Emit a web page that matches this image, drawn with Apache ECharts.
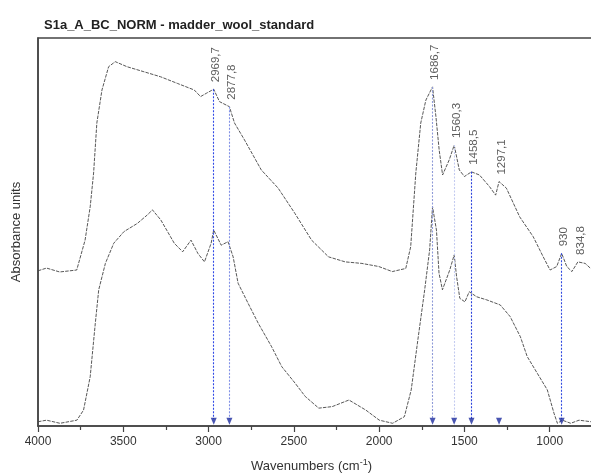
<!DOCTYPE html>
<html>
<head>
<meta charset="utf-8">
<script src="https://cdn.jsdelivr.net/npm/echarts@6/dist/echarts.min.js"></script>
<style>
    html, body {margin: 0; padding: 0; background: #fff;}
    #chart {width: 591px; height: 475px;}
</style>
</head>
<body>
<div id="chart"></div>
<script>
// upper spectrum (S1a sample)
var upperWn = [4000, 3950, 3873, 3773, 3724, 3694, 3674, 3655, 3625, 3586, 3547, 3478, 3379, 3281, 3183, 3084, 3047, 3011, 2970, 2936,
    2878, 2848, 2789, 2691, 2592, 2494, 2396, 2297, 2199, 2101, 2002, 1923, 1844, 1815, 1785, 1756, 1726, 1687, 1667, 1648,
    1628, 1589, 1560, 1530, 1500, 1459, 1412, 1353, 1317, 1297, 1254, 1176, 1097, 1038, 998, 959, 930, 900, 870, 835, 792, 750];
var upperAbs = [40.0, 40.7, 39.7, 40.2, 47.9, 56.5, 65.2, 78.1, 86.6, 92.6, 93.9, 92.6, 91.3, 90.0, 88.3, 86.6, 84.9, 85.8, 86.8, 83.6,
    82.3, 78.1, 73.7, 66.0, 61.3, 54.8, 47.9, 43.6, 42.3, 41.9, 41.1, 39.8, 40.6, 46.2, 65.2, 78.1, 84.0, 87.4, 79.7, 71.1,
    64.7, 68.6, 72.4, 66.0, 64.3, 65.5, 64.7, 61.7, 59.5, 63.0, 61.3, 53.9, 48.8, 43.6, 40.2, 41.1, 44.5, 41.1, 39.8, 42.3, 41.9, 40.2];

// lower spectrum (madder wool standard)
var lowerWn = [4000, 3950, 3871, 3772, 3733, 3694, 3664, 3644, 3605, 3556, 3496, 3418, 3359, 3329, 3280, 3201, 3152, 3103, 3063, 3024,
    2985, 2970, 2926, 2886, 2856, 2827, 2768, 2709, 2630, 2571, 2492, 2433, 2354, 2275, 2177, 2078, 1999, 1921, 1852, 1812,
    1773, 1733, 1704, 1687, 1664, 1649, 1629, 1586, 1560, 1546, 1527, 1497, 1472, 1428, 1369, 1290, 1232, 1172, 1132, 1073,
    1014, 975, 955, 926, 877, 828, 758];
var lowerAbs = [1.1, 1.5, 0.7, 1.5, 4.1, 12.7, 26.5, 35.1, 41.9, 47.1, 50.1, 52.2, 54.4, 55.7, 53.1, 47.1, 44.9, 47.9, 44.5, 42.3,
    47.1, 50.5, 46.6, 47.5, 43.6, 36.8, 31.6, 26.5, 20.4, 15.3, 11.0, 7.6, 4.6, 5.0, 6.7, 4.1, 1.5, 0.7, 2.4, 9.3,
    22.2, 35.1, 45.4, 56.5, 50.5, 39.4, 35.1, 40.2, 44.1, 38.5, 32.9, 32.0, 34.6, 33.3, 32.5, 31.2, 28.2, 23.0, 17.9, 13.6,
    9.3, 3.3, 0.7, 1.5, 0.7, 1.5, 1.1];

// picked peaks
var peakWn = [2969.7, 2877.8, 1686.7, 1560.3, 1458.5, 1297.1, 930, 834.8];
var peakLabels = ['2969,7', '2877,8', '1686,7', '1560,3', '1458,5', '1297,1', '930', '834,8'];
var peakTop = [86.8, 82.3, 87.4, 72.4, 65.5, 63.0, 44.5, 42.3];
var arrowWn = [2969.7, 2877.8, 1686.7, 1560.3, 1458.5, 1297.1, 930];

var FONT = 'Liberation Sans, Arial, sans-serif';

function pairs(xs, ys) {
    var out = [];
    for (var i = 0; i < xs.length && i < ys.length; i++) {
        out.push([xs[i], ys[i]]);
    }
    return out;
}

// dotted guide line colour per peak (none for 1297,1 and 834,8)
var guideColor = {
    '2969,7': '#2f48e6',
    '2877,8': '#8090e6',
    '1686,7': '#8e9ad8',
    '1560,3': '#c4cbf0',
    '1458,5': '#2a40dc',
    '930': '#2f48e0'
};

var guides = [];
for (var i = 0; i < peakWn.length; i++) {
    var c = guideColor[peakLabels[i]];
    if (!c) continue;
    guides.push([
        {coord: [peakWn[i], peakTop[i]], lineStyle: {color: c, type: [2, 1.5], width: 1.1}},
        {coord: [peakWn[i], 1.8]}
    ]);
}

var spectrumStyle = {color: '#444', width: 0.9, type: [3.5, 1.2]};

var myChart = echarts.init(document.getElementById('chart'));
var options = {
    animation: false,
    backgroundColor: '#fff',
    title: {
        text: 'S1a_A_BC_NORM - madder_wool_standard',
        left: 39,
        top: 14,
        textStyle: {fontFamily: FONT, fontSize: 13, fontWeight: 'bold', color: '#222'}
    },
    // the axis runs on to 500 outside the picture, so the visible edge is ~760
    grid: {
        left: 38, top: 38, bottom: 49, right: -44,
        outerBoundsMode: 'none',
        containLabel: false,
        show: true, borderColor: '#444', borderWidth: 1.5
    },
    xAxis: {
        type: 'value',
        inverse: true,
        min: 500,
        max: 4000,
        interval: 500,
        name: 'Wavenumbers (cm{sup|-1})',
        nameLocation: 'middle',
        nameGap: 32,
        nameTextStyle: {
            fontFamily: FONT, fontSize: 13, color: '#333',
            padding: [0, 50, 0, 0],
            rich: {sup: {fontFamily: FONT, fontSize: 9, color: '#333', padding: [0, 0, 8, 0]}}
        },
        axisLine: {lineStyle: {color: '#444', width: 1.5}},
        axisTick: {length: 6, lineStyle: {color: '#444', width: 1.2}},
        minorTick: {show: true, splitNumber: 2, length: 4, lineStyle: {color: '#444', width: 1.2}},
        axisLabel: {
            fontFamily: FONT, fontSize: 12, color: '#333', margin: 10,
            formatter: function (v) { return String(v); }
        },
        splitLine: {show: false}
    },
    yAxis: {
        type: 'value',
        min: 0,
        max: 100,
        name: 'Absorbance units',
        nameLocation: 'middle',
        nameGap: 15,
        nameTextStyle: {fontFamily: FONT, fontSize: 13, color: '#333'},
        axisLine: {show: true, lineStyle: {color: '#444', width: 1.5}},
        axisTick: {show: false},
        axisLabel: {show: false},
        splitLine: {show: false}
    },
    series: [{
        name: 'S1a',
        type: 'line',
        showSymbol: false,
        data: pairs(upperWn, upperAbs),
        lineStyle: spectrumStyle,
        markLine: {
            silent: true,
            symbol: 'none',
            label: {show: false},
            lineStyle: {type: [2, 1.5], width: 1.1},
            data: guides
        }
    }, {
        name: 'madder_wool_standard',
        type: 'line',
        showSymbol: false,
        data: pairs(lowerWn, lowerAbs),
        lineStyle: spectrumStyle
    }, {
        name: 'arrows',
        type: 'scatter',
        symbol: 'triangle',
        symbolRotate: 180,
        symbolSize: [6, 7],
        itemStyle: {color: '#1b2a9e'},
        data: arrowWn.map(function (w) { return [w, 1.2]; }),
        z: 5
    }, {
        name: 'peaks',
        type: 'scatter',
        symbolSize: 0,
        data: pairs(peakWn, peakTop),
        label: {
            show: true,
            position: 'inside',
            rotate: 90,
            align: 'left',
            verticalAlign: 'middle',
            offset: [7, 2.5],
            fontFamily: FONT,
            fontSize: 11.5,
            color: '#333',
            formatter: function (p) { return peakLabels[p.dataIndex]; }
        },
        z: 6
    }]
};
myChart.setOption(options, true);
</script>
</body>
</html>
